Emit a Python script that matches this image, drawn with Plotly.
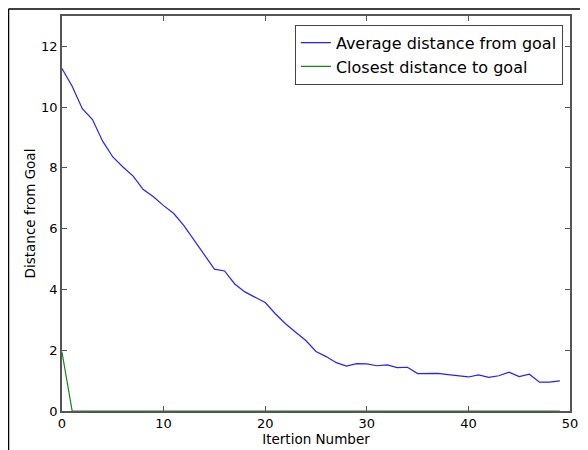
import plotly.graph_objects as go

iterations = list(range(50))
avg_distance = [11.27, 10.69, 9.95, 9.59, 8.88, 8.36, 8.03, 7.73, 7.29, 7.05,
                6.76, 6.50, 6.10, 5.62, 5.14, 4.67, 4.61, 4.18, 3.92, 3.75,
                3.57, 3.20, 2.87, 2.59, 2.32, 1.96, 1.79, 1.59, 1.48, 1.56,
                1.55, 1.49, 1.52, 1.43, 1.44, 1.23, 1.23, 1.24, 1.20, 1.15,
                1.12, 1.19, 1.11, 1.16, 1.28, 1.13, 1.21, 0.95, 0.95, 0.99]
closest_distance = [1.93] + [0.0] * 49

x_ticks = [0, 10, 20, 30, 40, 50]
y_ticks = [0, 2, 4, 6, 8, 10, 12]

font_family = "DejaVu Sans"

fig = go.Figure()
fig.add_trace(go.Scatter(x=iterations, y=avg_distance, mode="lines",
                         name="Average distance from goal",
                         line=dict(color="#2222ff", width=1.2)))
fig.add_trace(go.Scatter(x=iterations, y=closest_distance, mode="lines",
                         name="Closest distance to goal",
                         line=dict(color="#118811", width=1.2)))

axis_common = dict(showgrid=False, zeroline=False, showline=True, mirror="allticks",
                   linecolor="#555555", linewidth=1.5, ticks="inside", ticklen=5,
                   tickcolor="#555555", tickwidth=1, automargin=False,
                   tickfont=dict(family=font_family, size=13, color="black"))

# page body has an 8px default margin, so the figure is sized/offset to fit
fig.update_layout(
    width=580, height=442,
    margin=dict(l=54, r=18, t=8, b=39),
    paper_bgcolor="white", plot_bgcolor="white",
    font=dict(family=font_family, color="black"),
    xaxis=dict(range=[0, 50], tickvals=x_ticks, ticktext=[str(v) for v in x_ticks],
               title=dict(text="Itertion Number", font=dict(size=13.5), standoff=3),
               **axis_common),
    yaxis=dict(range=[0, 13], tickvals=y_ticks, ticktext=[str(v) for v in y_ticks],
               title=dict(text="Distance from Goal", font=dict(size=13.5), standoff=2),
               **axis_common),
    legend=dict(x=0.986, y=0.978, xanchor="right", yanchor="top",
                bgcolor="white", bordercolor="#444444", borderwidth=1,
                font=dict(family=font_family, size=16), itemwidth=30,
                tracegroupgap=0),
    showlegend=True,
    shapes=[
        dict(type="line", xref="paper", yref="paper", x0=-0.1053, x1=-0.1053,
             y0=1.018, y1=-0.12, line=dict(color="black", width=1.5)),
        dict(type="line", xref="paper", yref="paper", x0=-0.1053, x1=1.0295,
             y0=1.018, y1=1.018, line=dict(color="black", width=1.5)),
    ],
)

fig.write_html("out.html")
